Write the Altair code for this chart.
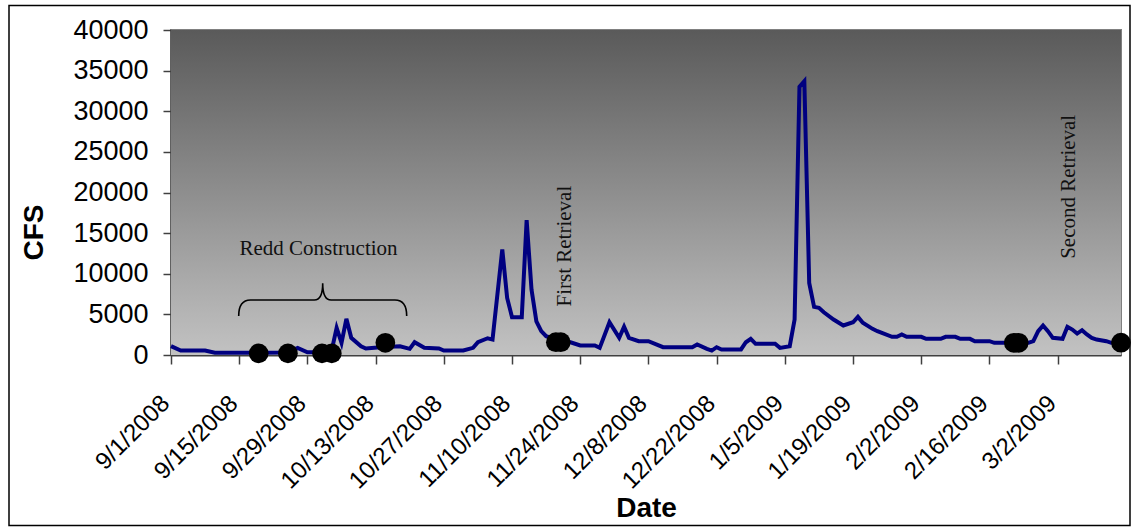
import altair as alt
import pandas as pd

# River flow at the gauge, CFS
FLOW_DATES = [
    "2008-09-01", "2008-09-03", "2008-09-08", "2008-09-10", "2008-09-20", "2008-09-25",
    "2008-09-27", "2008-09-29", "2008-10-02", "2008-10-04", "2008-10-05", "2008-10-06",
    "2008-10-07", "2008-10-08", "2008-10-10", "2008-10-11", "2008-10-14", "2008-10-18",
    "2008-10-20", "2008-10-21", "2008-10-23", "2008-10-26", "2008-10-27", "2008-10-31",
    "2008-11-02", "2008-11-03", "2008-11-05", "2008-11-06", "2008-11-08", "2008-11-09",
    "2008-11-10", "2008-11-12", "2008-11-13", "2008-11-14", "2008-11-15", "2008-11-16",
    "2008-11-17", "2008-11-20", "2008-11-22", "2008-11-24", "2008-11-27", "2008-11-28",
    "2008-11-30", "2008-12-02", "2008-12-03", "2008-12-04", "2008-12-06", "2008-12-08",
    "2008-12-11", "2008-12-17", "2008-12-18", "2008-12-20", "2008-12-21", "2008-12-22",
    "2008-12-23", "2008-12-27", "2008-12-28", "2008-12-29", "2008-12-30", "2009-01-03",
    "2009-01-04", "2009-01-06", "2009-01-07", "2009-01-08", "2009-01-09", "2009-01-10",
    "2009-01-11", "2009-01-12", "2009-01-13", "2009-01-15", "2009-01-17", "2009-01-19",
    "2009-01-20", "2009-01-21", "2009-01-23", "2009-01-24", "2009-01-27", "2009-01-28",
    "2009-01-29", "2009-01-30", "2009-02-02", "2009-02-03", "2009-02-06", "2009-02-07",
    "2009-02-09", "2009-02-10", "2009-02-12", "2009-02-13", "2009-02-16", "2009-02-17",
    "2009-02-19", "2009-02-24", "2009-02-25", "2009-02-26", "2009-02-27", "2009-02-28",
    "2009-03-01", "2009-03-03", "2009-03-04", "2009-03-05", "2009-03-06", "2009-03-07",
    "2009-03-08", "2009-03-09", "2009-03-10", "2009-03-12", "2009-03-13", "2009-03-15",
]
FLOW_CFS = [
    1100, 550, 550, 270, 270, 300,
    880, 340, 340, 600, 3340, 1500,
    4450, 2110, 1080, 800, 950, 1080,
    760, 1570, 880, 800, 550, 550,
    880, 1570, 2060, 1900, 13000, 7030,
    4650, 4650, 16600, 8050, 4150, 2930,
    2310, 1700, 1570, 1170, 1170, 880,
    4030, 2110, 3470, 2110, 1700, 1700,
    960, 960, 1290, 760, 550, 960,
    680, 680, 1570, 1990, 1380, 1380,
    880, 1080, 4360, 33000, 33700, 8870,
    5920, 5800, 5260, 4360, 3630, 4030,
    4690, 3960, 3220, 2930, 2240, 2240,
    2520, 2240, 2240, 1990, 1990, 2240,
    2240, 1990, 1990, 1700, 1700, 1500,
    1500, 1500, 1700, 2930, 3630, 2930,
    2110, 1990, 3470, 3130, 2640, 3050,
    2520, 2110, 1900, 1700, 1500, 1500,
]

# Field visits: redd construction, first and second retrieval
EVENT_DATES = [
    "2008-09-19", "2008-09-25", "2008-10-02", "2008-10-04", "2008-10-15",
    "2008-11-19", "2008-11-20", "2009-02-21", "2009-02-22", "2009-03-15",
]
EVENT_CFS = [200, 200, 200, 200, 1500, 1570, 1570, 1500, 1500, 1520]

TICK_LABELS = [
    "9/1/2008", "9/15/2008", "9/29/2008", "10/13/2008", "10/27/2008",
    "11/10/2008", "11/24/2008", "12/8/2008", "12/22/2008", "1/5/2009",
    "1/19/2009", "2/2/2009", "2/16/2009", "3/2/2009",
]
Y_TICKS = [0, 5000, 10000, 15000, 20000, 25000, 30000, 35000, 40000]

# Annotation text anchors
NOTE_TEXT = ["Redd Construction"]
NOTE_DATES = ["2008-10-01T06:43:00Z"]
NOTE_CFS = [12300]
VNOTE_TEXT = ["First Retrieval", "Second Retrieval"]
VNOTE_DATES = ["2008-11-22T02:30:00Z", "2009-03-05T13:30:00Z"]
VNOTE_CFS = [13400, 20700]

# Brace over the construction period
BRACE_DATES = ["2008-10-02T03:20:00Z"]
BRACE_CFS = [6770]
BRACE_PATH = "M -1 0.19 Q -1 0 -0.86 0 L -0.1 0 Q 0 0 0 -0.2 Q 0 0 0.1 0 L 0.86 0 Q 1 0 1 0.19"

SANS = "Liberation Sans"
SERIF = "Liberation Serif"


def utc(d):
    return d if "T" in d else d + "T00:00:00Z"


def tick_dt(label):
    m, d, y = (int(p) for p in label.split("/"))
    return alt.DateTime(year=y, month=m, date=d, utc=True)


flow = pd.DataFrame({"date": [utc(d) for d in FLOW_DATES], "cfs": FLOW_CFS})
events = pd.DataFrame({"date": [utc(d) for d in EVENT_DATES], "cfs": EVENT_CFS})
notes = pd.DataFrame({"date": NOTE_DATES, "cfs": NOTE_CFS, "label": NOTE_TEXT})
vnotes = pd.DataFrame({"date": VNOTE_DATES, "cfs": VNOTE_CFS, "label": VNOTE_TEXT})
brace = pd.DataFrame({"date": BRACE_DATES, "cfs": BRACE_CFS})
panel = pd.DataFrame({
    "date": ["2008-09-01T00:00:00Z"], "date2": ["2009-03-15T00:00:00Z"],
    "cfs": [Y_TICKS[0]], "cfs2": [Y_TICKS[-1]],
})

X_SCALE = alt.Scale(
    type="utc", nice=False,
    domain=[alt.DateTime(year=2008, month=9, date=1, utc=True),
            alt.DateTime(year=2009, month=3, date=15, utc=True)],
)
Y_SCALE = alt.Scale(domain=[Y_TICKS[0], Y_TICKS[-1]], nice=False)

x_axis = alt.Axis(
    values=[tick_dt(t) for t in TICK_LABELS], format="%-m/%-d/%Y",
    labelAngle=-45, labelAlign="right", labelBaseline="top",
    labelPadding=27, labelOffset=-14, labelFlush=False, labelOverlap=False,
    labelFont=SANS, labelFontSize=24, labelColor="black",
    tickSize=9, tickColor="#404040", tickWidth=1.5,
    domainColor="#404040", domainWidth=2, grid=False,
    title="Date", titleFont=SANS, titleFontSize=28, titleFontWeight="bold",
    titleColor="black", titleBaseline="alphabetic", titleY=161,
)
y_axis = alt.Axis(
    values=Y_TICKS, format="d",
    labelFont=SANS, labelFontSize=27, labelColor="black", labelPadding=15,
    tickSize=8, tickColor="#404040", tickWidth=1.5,
    domainColor="#404040", domainWidth=2, grid=False,
    title="CFS", titleFont=SANS, titleFontSize=28, titleFontWeight="bold",
    titleColor="black", titleAngle=270, titleAlign="center",
    titleBaseline="alphabetic", titleX=-129, titleY=202,
)

gradient = alt.LinearGradient(
    gradient="linear",
    stops=[alt.GradientStop(color="#5a5a5a", offset=0),
           alt.GradientStop(color="#c2c2c2", offset=1)],
    x1=0, x2=0, y1=0, y2=1,
)

X = alt.X("date:T", scale=X_SCALE, axis=x_axis)
Y = alt.Y("cfs:Q", scale=Y_SCALE, axis=y_axis)

bg = alt.Chart(panel).mark_rect(fill=gradient).encode(
    x=X, x2="date2:T", y=Y, y2="cfs2:Q",
)

line = alt.Chart(flow).mark_line(color="#000080", strokeWidth=4).encode(x=X, y=Y)

brace_mark = alt.Chart(brace).mark_point(
    shape=BRACE_PATH, size=28224, filled=False, stroke="black",
    strokeWidth=1.6, opacity=1,
).encode(x=X, y=Y)

note_mark = alt.Chart(notes).mark_text(
    font=SERIF, fontSize=21, color="#111111", align="center", baseline="alphabetic",
).encode(x=X, y=Y, text="label:N")

vnote_mark = alt.Chart(vnotes).mark_text(
    font=SERIF, fontSize=21, color="#111111", align="center",
    baseline="alphabetic", angle=270,
).encode(x=X, y=Y, text="label:N")

dots = alt.Chart(events).mark_circle(color="black", size=390, opacity=1).encode(x=X, y=Y)

frame = alt.Chart(panel).mark_rect(
    filled=False, stroke="black", strokeWidth=1.5
).encode(
    x=alt.value(-162), x2=alt.value(959), y=alt.value(-24.5), y2=alt.value(495.5)
)

chart = alt.layer(bg, line, brace_mark, note_mark, vnote_mark, dots, frame).properties(
    width=950, height=325,
    autosize=alt.AutoSizeParams(type="none"),
    padding={"left": 171, "top": 30, "right": 12, "bottom": 174},
    background="white",
).configure_view(stroke="#808080", strokeWidth=2)

chart.save("out.html", embed_options={"renderer": "svg", "actions": False})
